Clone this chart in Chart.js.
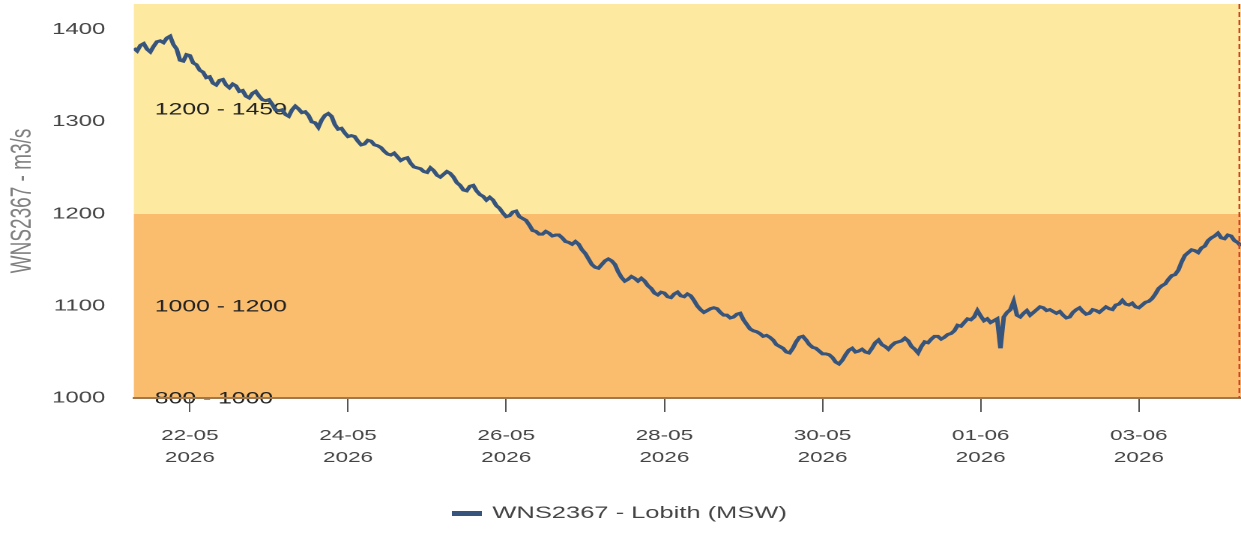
<!DOCTYPE html>
<html>
<head>
<meta charset="utf-8">
<script src="https://cdn.jsdelivr.net/npm/chart.js"></script>
<style>
  html, body { margin: 0; padding: 0; background: #fff; overflow: hidden; }
  #wrap { width: 828px; height: 550px; transform-origin: 0 0; transform: scaleX(1.49879); }
</style>
</head>
<body>
<div id="wrap"><canvas id="flowChart" width="828" height="550"></canvas></div>
<script>
// series: discharge Lobith, hourly starting 21-05-2026 07:00
const seriesLabel = 'WNS2367 - Lobith (MSW)';
const stepHours = 1;
const flowValues = [
  1380, 1377, 1383, 1385, 1379, 1376, 1382, 1387, 1388, 1386, 1391, 1393, 1384, 1379, 1367, 1366, 1373, 1372, 1364, 1362,
  1356, 1354, 1348, 1349, 1342, 1340, 1345, 1346, 1340, 1337, 1341, 1339, 1333, 1334, 1328, 1326, 1331, 1333, 1328, 1324,
  1323, 1324, 1319, 1313, 1312, 1313, 1308, 1306, 1313, 1317, 1314, 1310, 1311, 1307, 1300, 1299, 1294, 1302, 1307, 1309,
  1306, 1297, 1292, 1293, 1288, 1284, 1285, 1284, 1279, 1275, 1276, 1280, 1279, 1275, 1274, 1272, 1268, 1265, 1264, 1266,
  1262, 1258, 1260, 1261, 1255, 1251, 1250, 1249, 1246, 1245, 1250, 1247, 1242, 1240, 1243, 1246, 1244, 1240, 1234, 1231,
  1226, 1225, 1230, 1231, 1225, 1221, 1219, 1215, 1218, 1215, 1209, 1206, 1201, 1197, 1198, 1202, 1203, 1197, 1195, 1193,
  1188, 1182, 1181, 1178, 1178, 1181, 1179, 1176, 1177, 1177, 1174, 1170, 1169, 1167, 1170, 1167, 1161, 1157, 1151, 1145,
  1142, 1141, 1145, 1149, 1151, 1149, 1145, 1137, 1131, 1127, 1129, 1132, 1130, 1127, 1130, 1127, 1122, 1119, 1114, 1112,
  1115, 1114, 1110, 1109, 1113, 1115, 1111, 1110, 1113, 1111, 1106, 1100, 1096, 1093, 1095, 1097, 1098, 1097, 1093, 1090,
  1090, 1087, 1088, 1091, 1092, 1085, 1080, 1075, 1073, 1072, 1070, 1067, 1068, 1066, 1063, 1058, 1056, 1054, 1050, 1049,
  1054, 1061, 1066, 1067, 1063, 1058, 1055, 1054, 1051, 1048, 1048, 1047, 1044, 1039, 1037, 1041, 1047, 1052, 1054, 1050,
  1051, 1053, 1050, 1049, 1054, 1060, 1063, 1058, 1056, 1053, 1057, 1060, 1061, 1062, 1065, 1062, 1056, 1053, 1049, 1056,
  1061, 1060, 1064, 1067, 1067, 1064, 1066, 1069, 1070, 1073, 1079, 1078, 1082, 1086, 1085, 1088, 1095, 1089, 1084, 1086,
  1082, 1084, 1086, 1054, 1088, 1093, 1096, 1105, 1090, 1088, 1092, 1095, 1090, 1093, 1096, 1099, 1098, 1095, 1096, 1094,
  1092, 1094, 1090, 1087, 1088, 1093, 1096, 1098, 1094, 1091, 1092, 1096, 1095, 1093, 1096, 1099, 1097, 1096, 1101, 1102,
  1106, 1102, 1101, 1103, 1099, 1098, 1101, 1104, 1105, 1108, 1113, 1119, 1122, 1124, 1129, 1133, 1134, 1139, 1148, 1155,
  1158, 1161, 1160, 1158, 1163, 1165, 1171, 1174, 1176, 1179, 1174, 1173, 1177, 1176, 1171, 1169, 1165
];

// x axis (hours since 21-05 07:00)
const xRange = [0, 336];
const nowHour = 335.5;
const tickHours = [17, 65, 113, 161, 209, 257, 305];
const tickLabels = [
  ['22-05', '2026'], ['24-05', '2026'], ['26-05', '2026'], ['28-05', '2026'],
  ['30-05', '2026'], ['01-06', '2026'], ['03-06', '2026']
];

// y axis
const yRange = [1000, 1428];
const yTitle = 'WNS2367 - m3/s';

// threshold bands
const bandRanges = [[800, 1000], [1000, 1200], [1200, 1450]];
const bandLabels = ['800 - 1000', '1000 - 1200', '1200 - 1450'];
const bandColors = ['#f7a35c', '#fabd6e', '#fde9a0'];

const points = flowValues.map((v, i) => ({ x: i * stepHours, y: v }));

const bandPlugin = {
  id: 'bands',
  beforeDraw(chart) {
    const { ctx, chartArea: a, scales: { y } } = chart;
    ctx.save();
    bandRanges.forEach((r, i) => {
      const lo = Math.max(r[0], y.min);
      const hi = Math.min(r[1], y.max);
      if (hi <= lo) return;
      const top = y.getPixelForValue(hi);
      const bot = y.getPixelForValue(lo);
      ctx.fillStyle = bandColors[i];
      ctx.fillRect(a.left, top, a.right - a.left, bot - top);
    });
    ctx.font = '16.5px "Liberation Sans", Arial, sans-serif';
    ctx.fillStyle = '#222';
    ctx.textBaseline = 'middle';
    bandRanges.forEach((r, i) => {
      const lo = Math.max(r[0], y.min);
      const hi = Math.min(r[1], y.max);
      const mid = hi > lo ? (lo + hi) / 2 : hi;
      ctx.fillText(bandLabels[i], a.left + 14, y.getPixelForValue(mid) + 1);
    });
    ctx.restore();
  },
  afterDatasetsDraw(chart) {
    const { ctx, chartArea: a, scales: { x } } = chart;
    const px = x.getPixelForValue(nowHour);
    ctx.save();
    ctx.strokeStyle = '#d0402a';
    ctx.lineWidth = 1.2;
    ctx.setLineDash([5, 3]);
    ctx.beginPath();
    ctx.moveTo(px, a.top);
    ctx.lineTo(px, a.bottom);
    ctx.stroke();
    ctx.restore();
  }
};

new Chart(document.getElementById('flowChart'), {
  type: 'line',
  data: {
    datasets: [{
      label: seriesLabel,
      data: points,
      borderColor: '#36547c',
      backgroundColor: '#36547c',
      borderWidth: 3,
      pointRadius: 0,
      tension: 0
    }]
  },
  options: {
    responsive: false,
    animation: false,
    devicePixelRatio: 2,
    layout: { padding: { top: 4, bottom: 18, left: 0, right: 0 } },
    scales: {
      x: {
        type: 'linear',
        min: xRange[0],
        max: xRange[1],
        afterFit: (s) => { s.height = 97; },
        afterBuildTicks: (s) => { s.ticks = tickHours.map(v => ({ value: v })); },
        grid: { drawOnChartArea: false, drawTicks: true, tickLength: 14, tickColor: '#555', tickWidth: 1 },
        border: { color: '#a07850', width: 2 },
        ticks: {
          autoSkip: false,
          maxRotation: 0,
          padding: 13,
          color: '#444',
          font: { family: '"Liberation Sans", Arial, sans-serif', size: 15, lineHeight: 1.45 },
          callback: (v, i) => tickLabels[i]
        }
      },
      y: {
        min: yRange[0],
        max: yRange[1],
        afterFit: (s) => { s.width = 89.3; },
        grid: { display: false, drawTicks: true, tickLength: 19 },
        border: { display: false },
        ticks: {
          stepSize: 100,
          includeBounds: false,
          padding: 0,
          color: '#444',
          font: { family: '"Liberation Sans", Arial, sans-serif', size: 16, lineHeight: 0.5 },
          callback: (v) => String(v)
        },
        title: {
          display: true,
          text: yTitle,
          color: '#808080',
          padding: { top: 4, bottom: 0 },
          font: { family: '"Liberation Sans", Arial, sans-serif', size: 19 }
        }
      }
    },
    plugins: {
      legend: {
        position: 'bottom',
        labels: {
          boxWidth: 17,
          boxHeight: 2,
          color: '#444',
          font: { family: '"Liberation Sans", Arial, sans-serif', size: 17 }
        }
      },
      tooltip: { enabled: false }
    }
  },
  plugins: [bandPlugin]
});
</script>
</body>
</html>
